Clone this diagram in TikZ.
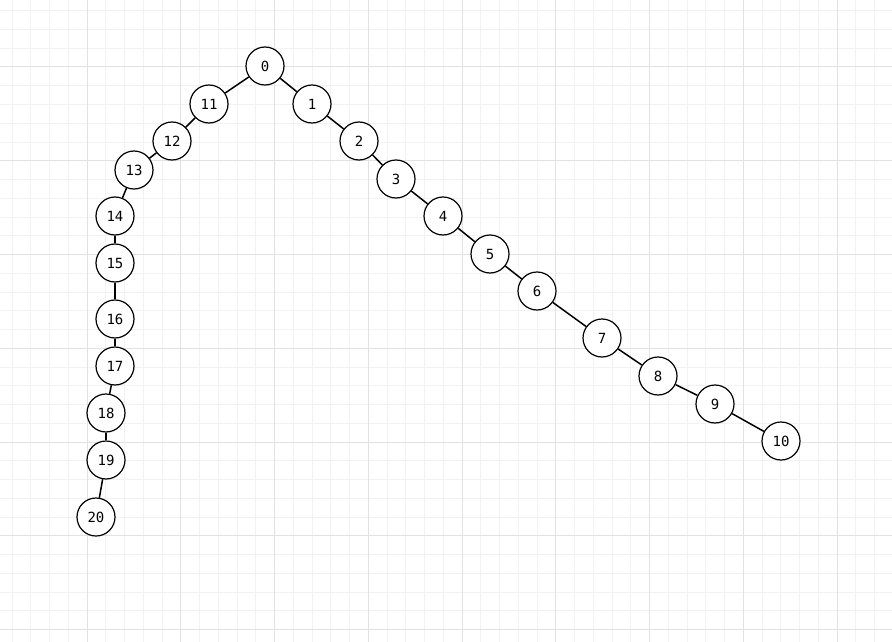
\documentclass[tikz,border=0pt]{standalone}
\usepackage{fontspec}
\setmonofont{DejaVu Sans Mono}
\usetikzlibrary{positioning}
\definecolor{gridminor}{HTML}{F2F2F2}
\definecolor{gridmajor}{HTML}{E2E2E2}

\begin{document}
\begin{tikzpicture}[
        x=1pt, y=-1pt,
        vertex/.style={
            draw,
            circle,
            line width=1.2pt,
            fill=white,
            minimum size=38pt,
            inner sep=0pt,
            font=\ttfamily\fontsize{14}{16}\selectfont
        },
        edge/.style={line width=1.5pt}
    ]
        \useasboundingbox (0,0) rectangle (892,642);
        \fill[white] (0,0) rectangle (892,642);
        % grid
        \foreach \i in {0,...,47}
            \draw[gridminor, line width=1pt] (12+18.75*\i,0) -- (12+18.75*\i,642);
        \foreach \i in {0,...,34}
            \draw[gridminor, line width=1pt] (0,10.75+18.75*\i) -- (892,10.75+18.75*\i);
        \foreach \i in {0,...,9}
            \draw[gridmajor, line width=1pt] (87+93.75*\i-93.75,0) -- (87+93.75*\i-93.75,642);
        \foreach \i in {0,...,6}
            \draw[gridmajor, line width=1pt] (0,67+93.75*\i) -- (892,67+93.75*\i);

        % right branch
        \node[vertex] (n0) at (265,66) {0};
        \node[vertex] (n1) at (312,104) {1};
        \node[vertex] (n2) at (359,141) {2};
        \node[vertex] (n3) at (396,179) {3};
        \node[vertex] (n4) at (443,216) {4};
        \node[vertex] (n5) at (490,254) {5};
        \node[vertex] (n6) at (537,291) {6};
        \node[vertex] (n7) at (602,338) {7};
        \node[vertex] (n8) at (658,376) {8};
        \node[vertex] (n9) at (715,404) {9};
        \node[vertex] (n10) at (781,441) {10};
        % left branch
        \node[vertex] (n11) at (209,104) {11};
        \node[vertex] (n12) at (172,141) {12};
        \node[vertex] (n13) at (134,170) {13};
        \node[vertex] (n14) at (115,216) {14};
        \node[vertex] (n15) at (115,263) {15};
        \node[vertex] (n16) at (115,319) {16};
        \node[vertex] (n17) at (115,366) {17};
        \node[vertex] (n18) at (106,413) {18};
        \node[vertex] (n19) at (106,460) {19};
        \node[vertex] (n20) at (96,517) {20};

        \foreach \a/\b in {0/1,1/2,2/3,3/4,4/5,5/6,6/7,7/8,8/9,9/10,
                           0/11,11/12,12/13,13/14,14/15,15/16,16/17,17/18,18/19,19/20}
            \draw[edge] (n\a) -- (n\b);
    \end{tikzpicture}
\end{document}
